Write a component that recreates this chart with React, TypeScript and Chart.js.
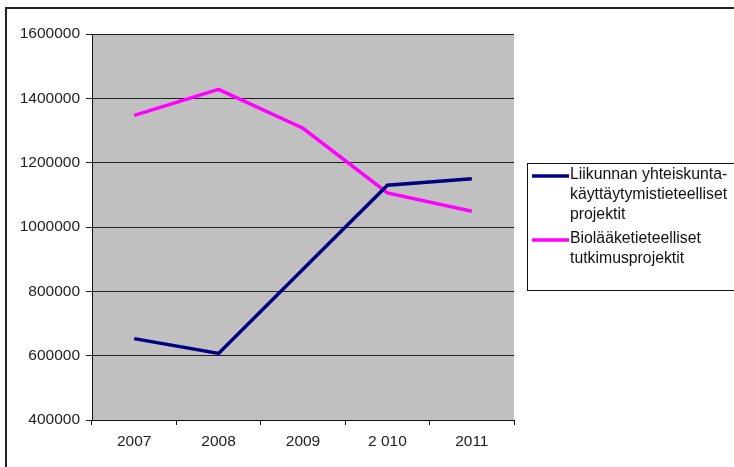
import React, { useEffect, useRef } from "react";
import { Chart, registerables } from "chart.js";

Chart.register(...registerables);

const years = ["2007", "2008", "2009", "2 010", "2011"];
const liikuntaValues = [653000, 607000, 869000, 1130000, 1150000];
const bioValues = [1347000, 1428000, 1307000, 1106000, 1049000];
const liikuntaLabel = ["Liikunnan yhteiskunta-", "käyttäytymistieteelliset", "projektit"];
const bioLabel = ["Biolääketieteelliset", "tutkimusprojektit"];
const yMin = 400000;
const yMax = 1600000;
const yStep = 200000;

const FONT = "'Liberation Sans', Arial, sans-serif";

const framePlugin = {
  id: "frame",
  afterDraw(chart: any) {
    const ctx = chart.ctx;
    ctx.save();
    ctx.strokeStyle = "#222";
    ctx.lineWidth = 2;
    ctx.beginPath();
    ctx.moveTo(6, 467);
    ctx.lineTo(6, 8);
    ctx.lineTo(734, 8);
    ctx.stroke();

    ctx.lineWidth = 1;
    ctx.strokeStyle = "#111";
    ctx.strokeRect(527.5, 163.5, 220, 127);

    const items = chart.data.datasets.map((ds: any, i: number) => ({
      color: ds.borderColor,
      lines: i === 0 ? liikuntaLabel : bioLabel,
    }));
    ctx.font = "15.8px " + FONT;
    ctx.fillStyle = "#111";
    ctx.textBaseline = "middle";
    ctx.textAlign = "left";
    let y = 175;
    items.forEach((it: any) => {
      ctx.strokeStyle = it.color;
      ctx.lineWidth = 3.5;
      ctx.beginPath();
      ctx.moveTo(532, y + 1);
      ctx.lineTo(569, y + 1);
      ctx.stroke();
      it.lines.forEach((t: string, k: number) => {
        ctx.fillText(t, 570, y + k * 20);
      });
      y += it.lines.length * 20 + 4;
    });
    ctx.restore();
  },
};

const bgPlugin = {
  id: "plotbg",
  beforeDraw(chart: any) {
    const { ctx, chartArea } = chart;
    ctx.save();
    ctx.fillStyle = "#FFFFFF";
    ctx.fillRect(0, 0, chart.width, chart.height);
    ctx.fillStyle = "#C0C0C0";
    ctx.fillRect(chartArea.left, chartArea.top, chartArea.right - chartArea.left, chartArea.bottom - chartArea.top);
    ctx.restore();
  },
};

export default function App() {
  const ref = useRef<HTMLCanvasElement>(null);
  useEffect(() => {
    if (!ref.current) return;
    const chart = new Chart(ref.current, {
      type: "line",
      data: {
        labels: years,
        datasets: [
          {
            label: liikuntaLabel.join(" "),
            data: liikuntaValues,
            borderColor: "#000080",
            borderWidth: 3.5,
            pointRadius: 0,
            tension: 0,
          },
          {
            label: bioLabel.join(" "),
            data: bioValues,
            borderColor: "#FF00FF",
            borderWidth: 3.5,
            pointRadius: 0,
            tension: 0,
          },
        ],
      },
      options: {
        responsive: false,
        animation: false,
        layout: { padding: { left: 0, top: 34, right: 220, bottom: 0 } },
        plugins: { legend: { display: false }, tooltip: { enabled: false } },
        scales: {
          x: {
            offset: true,
            afterFit: (s: any) => {
              s.height = 47;
            },
            grid: {
              offset: true,
              drawOnChartArea: false,
              drawTicks: true,
              tickLength: 5,
              color: "#111",
            },
            border: { display: true, color: "#111", width: 1 },
            ticks: {
              color: "#222",
              font: { family: FONT, size: 15.5 },
              padding: 7,
              maxRotation: 0,
            },
          },
          y: {
            min: yMin,
            max: yMax,
            afterFit: (s: any) => {
              s.width = 92;
            },
            grid: {
              color: "#222",
              lineWidth: 1,
              drawTicks: true,
              tickLength: 6,
            },
            border: { display: true, color: "#111", width: 1 },
            ticks: {
              stepSize: yStep,
              color: "#222",
              font: { family: FONT, size: 15.5 },
              padding: 6,
              callback: (v: any) => String(v),
            },
          },
        },
      },
      plugins: [bgPlugin, framePlugin],
    });
    return () => chart.destroy();
  }, []);
  return (
    <div style={{ position: "fixed", left: 0, top: 0, width: 734, height: 467 }}>
      <canvas ref={ref} width={734} height={467} />
    </div>
  );
}
